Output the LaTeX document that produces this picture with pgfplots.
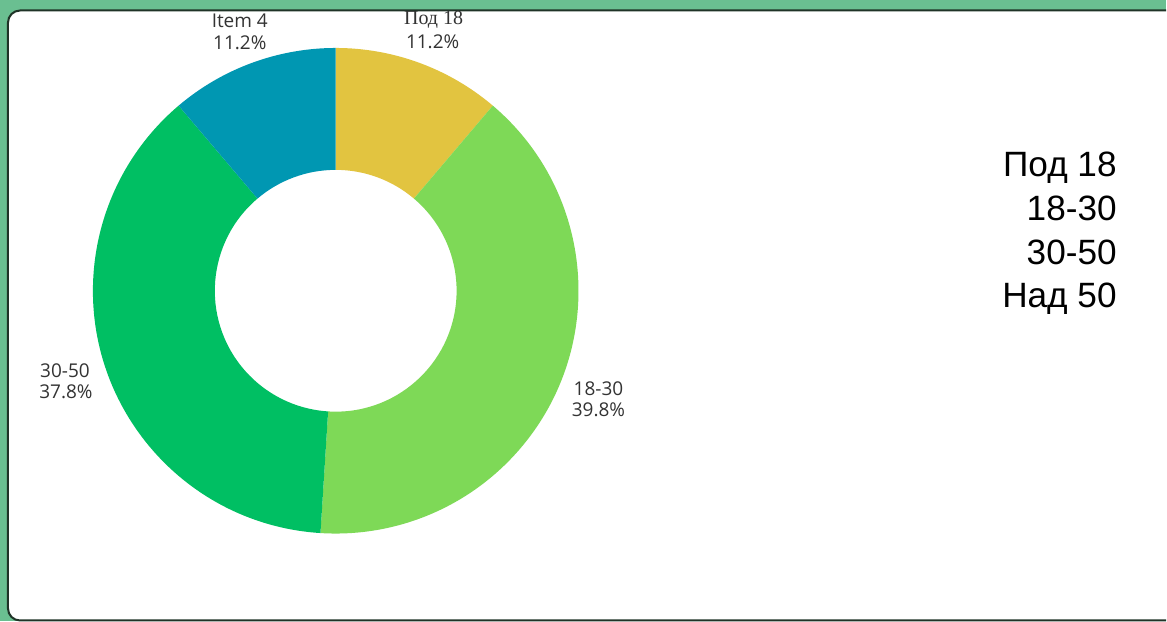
\documentclass[border=0pt]{standalone}
\usepackage{pgfplots}
\pgfplotsset{compat=1.18}
\usepackage{fontspec}
\setmainfont{Open Sans}
\newfontfamily\serifcyr{Liberation Serif}
\newfontfamily\legfont{Liberation Sans}
\definecolor{frame}{HTML}{6ABF91}
\definecolor{edge}{HTML}{1F3327}
\definecolor{cA}{HTML}{E2C440}
\definecolor{cB}{HTML}{7ED957}
\definecolor{cC}{HTML}{00BF63}
\definecolor{cD}{HTML}{0097B2}
\definecolor{lab}{HTML}{333333}
\newcommand\slice[3]{\fill[#3] (#1:121.5pt) arc[start angle=#1, end angle=#2, radius=121.5pt] -- (#2:60.5pt) arc[start angle=#2, end angle=#1, radius=60.5pt] -- cycle;}
\begin{document}
\begin{tikzpicture}
% slice values (percent)
\def\vA{11.2}\def\vB{39.8}\def\vC{37.8}\def\vD{11.2}
\pgfmathsetmacro\aA{90}
\pgfmathsetmacro\aB{\aA-3.6*\vA}
\pgfmathsetmacro\aC{\aB-3.6*\vB}
\pgfmathsetmacro\aD{\aC-3.6*\vC}
\pgfmathsetmacro\aE{\aD-3.6*\vD}
\begin{axis}[hide axis, scale only axis, width=583.5pt, height=311pt,
  xmin=0, xmax=1167, ymin=0, ymax=622, y dir=reverse, clip=false]
\fill[frame] (axis cs:0,0) rectangle (axis cs:1167,622);
\fill[white] (axis cs:1167,10.5) [rounded corners=6pt] -- (axis cs:8,10.5) -- (axis cs:8,621) [sharp corners] -- (axis cs:1167,621) -- cycle;
\draw[edge, line width=1pt] (axis cs:1167,10.5) [rounded corners=6pt] -- (axis cs:8,10.5) -- (axis cs:8,621) [sharp corners] -- (axis cs:1167,621);
\begin{scope}[shift={(axis cs:336,291)}]
\slice{\aA}{\aB}{cA}
\slice{\aB}{\aC}{cB}
\slice{\aC}{\aD}{cC}
\slice{\aD}{\aE}{cD}
\end{scope}
\tikzset{lbl/.style={anchor=base, inner sep=0pt, text=lab, font=\fontsize{9.5}{11}\selectfont}}
\node[lbl] at (axis cs:240,28) {Item 4};
\node[lbl] at (axis cs:240,50) {\vD\%};
\node[lbl, font=\serifcyr\fontsize{10}{12}\selectfont] at (axis cs:434,25) {Под 18};
\node[lbl] at (axis cs:433,49) {\vA\%};
\node[lbl] at (axis cs:599,396) {18-30};
\node[lbl] at (axis cs:599,417) {\vB\%};
\node[lbl] at (axis cs:65,378) {30-50};
\node[lbl] at (axis cs:66,399) {\vC\%};
\tikzset{leg/.style={anchor=base east, inner sep=0pt, text=black, font=\legfont\fontsize{17.6}{20}\selectfont}}
\node[leg] at (axis cs:1118,177) {Под 18};
\node[leg] at (axis cs:1118,221) {18-30};
\node[leg] at (axis cs:1118,265) {30-50};
\node[leg] at (axis cs:1118,308) {Над 50};
\end{axis}
\end{tikzpicture}
\end{document}
